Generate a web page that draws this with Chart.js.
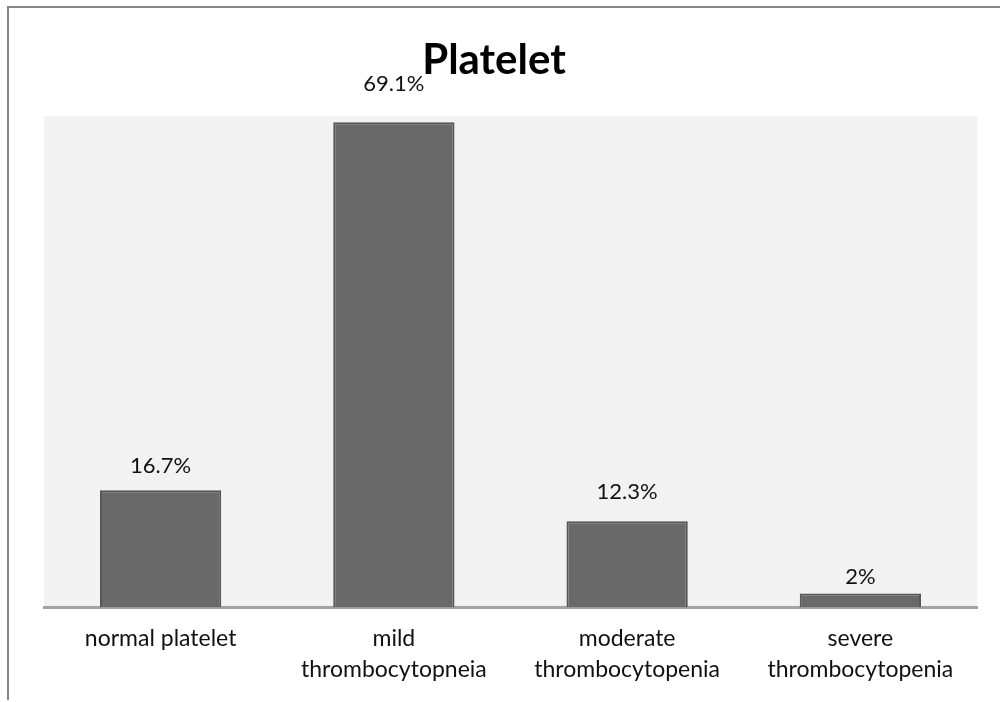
<!DOCTYPE html>
<html>
<head>
<meta charset="utf-8">
<script src="https://cdn.jsdelivr.net/npm/chart.js@4.4.1/dist/chart.umd.min.js"></script>
<style>
  html, body { margin: 0; padding: 0; background: #ffffff; }
  #wrap { position: relative; width: 1000px; height: 702px; overflow: hidden; }
  #frame {
    position: absolute; left: 7px; top: 6px; width: 1000px; height: 694px;
    border-top: 2px solid #868686; border-left: 2px solid #868686;
    box-sizing: border-box; pointer-events: none;
  }
  canvas { position: absolute; left: 0; top: 0; }
</style>
</head>
<body>
<div id="wrap">
  <canvas id="chart" width="1000" height="702"></canvas>
  <div id="frame"></div>
</div>
<script>
// Platelet count categories and their share of patients (%)
const categories = [
  'normal platelet',
  ['mild', 'thrombocytopneia'],
  ['moderate', 'thrombocytopenia'],
  ['severe', 'thrombocytopenia']
];
const percentages = [16.7, 69.1, 12.3, 2];
const valueLabels = ['16.7%', '69.1%', '12.3%', '2%'];
const yMax = 70;

// Distance (px) between each value label's baseline and the top of its bar
const labelGap = [17, 31, 22, 9];

const FONT = 'Lato, "Open Sans", sans-serif';

const plotBackground = {
  id: 'plotBackground',
  beforeDraw(chart) {
    const { ctx, chartArea: a } = chart;
    ctx.save();
    ctx.fillStyle = '#f2f2f2';
    ctx.fillRect(a.left, a.top, a.right - a.left, a.bottom - a.top);
    ctx.restore();
  }
};

const chartText = {
  id: 'chartText',
  afterDatasetsDraw(chart) {
    const { ctx } = chart;
    const meta = chart.getDatasetMeta(0);
    ctx.save();
    ctx.fillStyle = '#111111';
    ctx.font = '22px ' + FONT;
    ctx.textAlign = 'center';
    ctx.textBaseline = 'alphabetic';
    meta.data.forEach((bar, i) => {
      ctx.fillText(valueLabels[i], bar.x, bar.y - labelGap[i]);
    });
    // Chart title
    ctx.fillStyle = '#000000';
    ctx.font = 'bold 42px ' + FONT;
    ctx.fillText('Platelet', 494, 74);
    ctx.restore();
  }
};

new Chart(document.getElementById('chart'), {
  type: 'bar',
  data: {
    labels: categories,
    datasets: [{
      data: percentages,
      backgroundColor: '#696969',
      borderColor: '#575757',
      borderWidth: 2,
      borderSkipped: 'bottom',
      barPercentage: 0.52,
      categoryPercentage: 1
    }]
  },
  options: {
    responsive: false,
    animation: false,
    layout: { padding: { top: 116, left: 44, right: 23, bottom: 0 } },
    plugins: {
      legend: { display: false },
      title: { display: false },
      tooltip: { enabled: false }
    },
    scales: {
      x: {
        z: 1,
        grid: { display: false, drawTicks: false },
        border: { display: true, color: '#a3a3a3', width: 3 },
        ticks: {
          color: '#111111',
          font: { family: FONT, size: 23, lineHeight: 1.35 },
          padding: 16,
          maxRotation: 0,
          autoSkip: false
        },
        afterFit(scale) { scale.height = 94.5; }
      },
      y: {
        display: false,
        min: 0,
        max: yMax
      }
    }
  },
  plugins: [plotBackground, chartText]
});
</script>
</body>
</html>
